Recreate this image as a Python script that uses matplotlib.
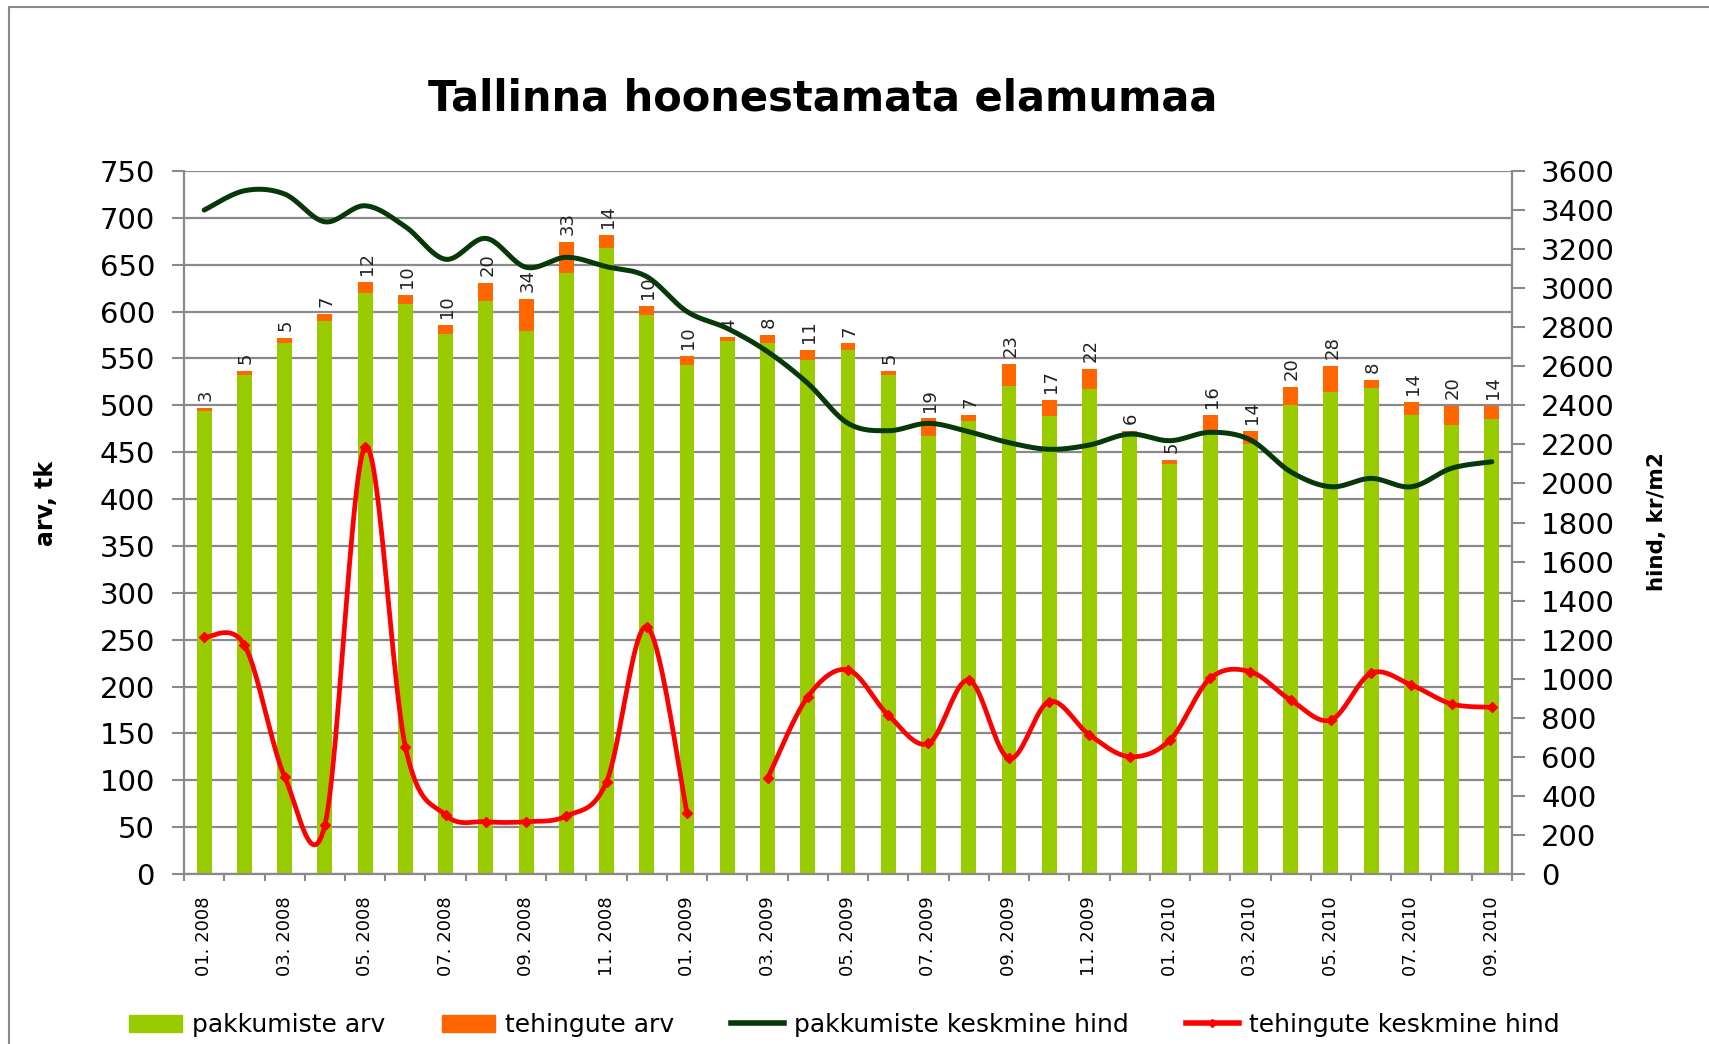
import numpy as np
import matplotlib.pyplot as plt
from matplotlib.patches import Patch, Rectangle
from matplotlib.lines import Line2D

plt.rcParams['font.family'] = ['DejaVu Sans']

# Monthly data, 01.2008 - 09.2010
months = ['01. 2008', '02. 2008', '03. 2008', '04. 2008', '05. 2008', '06. 2008',
          '07. 2008', '08. 2008', '09. 2008', '10. 2008', '11. 2008', '12. 2008',
          '01. 2009', '02. 2009', '03. 2009', '04. 2009', '05. 2009', '06. 2009',
          '07. 2009', '08. 2009', '09. 2009', '10. 2009', '11. 2009', '12. 2009',
          '01. 2010', '02. 2010', '03. 2010', '04. 2010', '05. 2010', '06. 2010',
          '07. 2010', '08. 2010', '09. 2010']
pakkumiste_arv = [494, 532, 567, 590, 620, 608, 576, 611, 579, 641, 668, 596,
                  543, 569, 567, 548, 559, 532, 467, 483, 521, 489, 517, 467,
                  437, 474, 459, 500, 514, 519, 490, 479, 485]
tehingute_arv = [3, 5, 5, 7, 12, 10, 10, 20, 34, 33, 14, 10,
                 10, 4, 8, 11, 7, 5, 19, 7, 23, 17, 22, 6,
                 5, 16, 14, 20, 28, 8, 14, 20, 14]
pakkumiste_hind = [3400, 3499, 3482, 3340, 3422, 3315, 3148, 3255, 3107, 3158, 3110, 3059,
                   2880, 2794, 2675, 2513, 2308, 2270, 2308, 2265, 2209, 2175, 2197, 2253,
                   2219, 2262, 2223, 2060, 1983, 2026, 1983, 2078, 2111]
tehingute_hind = [1212, 1173, 498, 251, 2188, 652, 302, 268, 268, 297, 473, 1266,
                  311, None, 490, 908, 1045, 814, 669, 993, 592, 883, 712, 601,
                  686, 1002, 1036, 891, 789, 1028, 968, 871, 854]

GREEN = '#99CC00'
ORANGE = '#FF6600'
DARK = '#073807'
RED = '#FF0000'
GRID = '#8a8a8a'


def smooth(xs, ys, n=24):
    # Excel-like smoothed line (bezier through points)
    x = np.asarray(xs, float)
    y = np.asarray(ys, float)
    if len(x) < 2:
        return x, y
    px = np.concatenate([[x[0]], x, [x[-1]]])
    py = np.concatenate([[y[0]], y, [y[-1]]])
    t = np.linspace(0, 1, n)[:, None]
    out = []
    for i in range(len(x) - 1):
        p0 = np.array([px[i], py[i]])
        p1 = np.array([px[i + 1], py[i + 1]])
        p2 = np.array([px[i + 2], py[i + 2]])
        p3 = np.array([px[i + 3], py[i + 3]])
        c1 = p1 + (p2 - p0) / 6
        c2 = p2 - (p3 - p1) / 6
        seg = ((1 - t) ** 3) * p1 + 3 * ((1 - t) ** 2) * t * c1 + 3 * (1 - t) * t ** 2 * c2 + t ** 3 * p2
        out.append(seg if i == 0 else seg[1:])
    out = np.vstack(out)
    return out[:, 0], out[:, 1]


fig = plt.figure(figsize=(17.09, 10.44), dpi=100)
ax = fig.add_axes([0.1077, 0.1628, 0.777, 0.6734])
x = np.arange(len(months))

ax.bar(x, pakkumiste_arv, width=0.37, color=GREEN, zorder=2)
totals = [a + b for a, b in zip(pakkumiste_arv, tehingute_arv)]
ax.bar(x, tehingute_arv, width=0.37, bottom=pakkumiste_arv, color=ORANGE, zorder=2)
for i, (tot, lab) in enumerate(zip(totals, tehingute_arv)):
    ax.annotate(str(lab), (i, tot), xytext=(1, 5), textcoords='offset points',
                rotation=90, ha='center', va='bottom', fontsize=13, color='#222222')

ax.set_xlim(-0.5, len(months) - 0.5)
ax.set_ylim(0, 750)
ax.set_yticks(np.arange(0, 751, 50))
ax.yaxis.grid(True, color=GRID, lw=1.6)
ax.set_axisbelow(True)
ax.set_xticks(x[::2])
ax.set_xticklabels(months[::2], rotation=90, fontsize=13)
ax.set_xticks(np.arange(-0.5, len(months), 1), minor=True)
ax.tick_params(axis='x', which='major', length=0, pad=16)
ax.tick_params(axis='x', which='minor', length=5, width=1.5, color=GRID)
ax.tick_params(axis='y', length=9, width=1.5, color=GRID, labelsize=21, pad=12)
for s in ['left', 'bottom']:
    ax.spines[s].set_color(GRID)
    ax.spines[s].set_linewidth(1.6)
ax.spines['top'].set_visible(False)
ax.spines['right'].set_visible(False)

ax2 = ax.twinx()
ax2.set_ylim(0, 3600)
ax2.set_yticks(np.arange(0, 3601, 200))
ax2.tick_params(axis='y', length=9, width=1.5, color=GRID, labelsize=21, pad=12)
for s in ['top', 'left', 'bottom']:
    ax2.spines[s].set_visible(False)
ax2.spines['right'].set_color(GRID)
ax2.spines['right'].set_linewidth(1.6)

sx, sy = smooth(x, pakkumiste_hind)
ax2.plot(sx, sy, color=DARK, lw=3.6, solid_capstyle='round')

# red line has a gap (no deals in 02.2009)
runs, cur = [], []
for i, v in enumerate(tehingute_hind):
    if v is None:
        if cur:
            runs.append(cur)
        cur = []
    else:
        cur.append((i, v))
if cur:
    runs.append(cur)
for run in runs:
    rx, ry = zip(*run)
    sx, sy = smooth(rx, ry)
    ax2.plot(sx, sy, color=RED, lw=3.4, solid_capstyle='round')
    ax2.plot(rx, ry, ls='none', marker='D', ms=5, color=RED)

fig.text(0.4815, 0.906, 'Tallinna hoonestamata elamumaa', ha='center', va='center',
         fontsize=30, fontweight='bold')
fig.text(0.027, 0.518, 'arv, tk', rotation=90, ha='center', va='center',
         fontsize=17, fontweight='bold')
fig.text(0.9696, 0.5, 'hind, kr/m2', rotation=90, ha='center', va='center',
         fontsize=15.5, fontweight='bold')

handles = [Patch(color=GREEN), Patch(color=ORANGE),
           Line2D([], [], color=DARK, lw=4),
           Line2D([], [], color=RED, lw=4, marker='D', ms=4)]
labels = ['pakkumiste arv', 'tehingute arv', 'pakkumiste keskmine hind', 'tehingute keskmine hind']
fig.legend(handles, labels, loc='center', bbox_to_anchor=(0.494, 0.018), ncol=4,
           frameon=False, fontsize=18, handlelength=2.1, handletextpad=0.4,
           columnspacing=2.3)

fig.patches.append(Rectangle((9 / 1709, -0.1), 2, 1.1 - 7 / 1044, transform=fig.transFigure,
                             fill=False, edgecolor='#8a8a8a', lw=1.5))

fig.savefig('out.png', dpi=100)
